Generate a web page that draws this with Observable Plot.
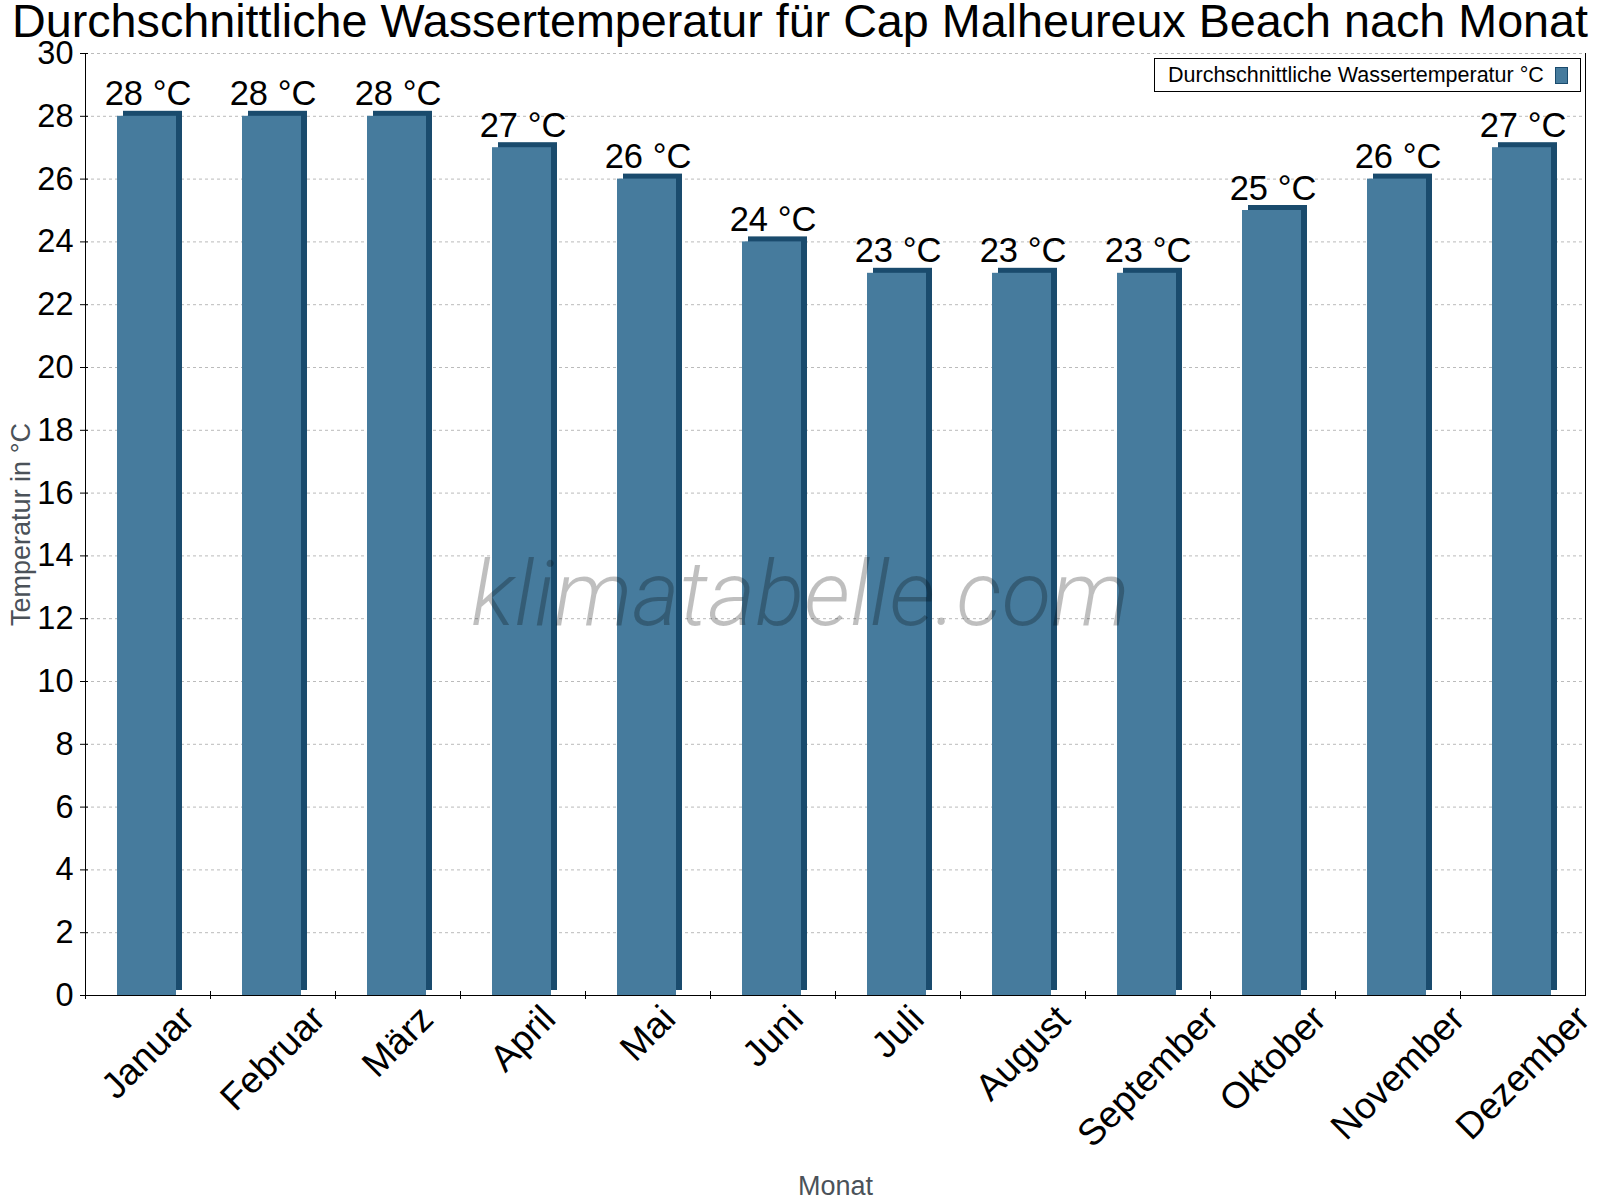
<!DOCTYPE html>
<html>
<head>
<meta charset="utf-8">
<script src="https://cdn.jsdelivr.net/npm/d3@7"></script>
<script src="https://cdn.jsdelivr.net/npm/@observablehq/plot@0.6"></script>
<style>
  html, body { margin: 0; padding: 0; background: #fff; }
  #wrap { position: relative; width: 1600px; height: 1200px; font-family: "Liberation Sans", Arial, sans-serif; }
  #title { position: absolute; left: 0; top: 0; width: 1600px; text-align: center; font-size: 46.7px; line-height: 42px; color: #000; white-space: nowrap; }
  #legend { position: absolute; left: 1154px; top: 58px; width: 427px; height: 34px; box-sizing: border-box; border: 1px solid #000; background: #fff; display: flex; align-items: center; padding-left: 13px; font-size: 21.5px; color: #000; }
  #legend .sw { margin-left: auto; margin-right: 12px; width: 13px; height: 17px; box-sizing: border-box; border: 1px solid #1a4b6d; background: #467b9d; }
  #watermark { position: absolute; left: 471px; top: 549px; font-family: Roboto, sans-serif; font-style: italic; font-weight: 300; font-size: 91px; line-height: 91px; color: rgba(0,0,0,0.25); white-space: nowrap; pointer-events: none; }
</style>
</head>
<body>
<div id="wrap">
  <div id="chart"></div>
  <div id="title">Durchschnittliche Wassertemperatur für Cap Malheureux Beach nach Monat</div>
  <div id="legend"><span>Durchschnittliche Wassertemperatur °C</span><span class="sw"></span></div>
  <div id="watermark">klimatabelle.com</div>
</div>
<script>
// Monthly average sea temperature, °C
const months = ["Januar", "Februar", "März", "April", "Mai", "Juni", "Juli", "August", "September", "Oktober", "November", "Dezember"];
const temps = [28, 28, 28, 27, 26, 24, 23, 23, 23, 25, 26, 27];
const yTicks = [0, 2, 4, 6, 8, 10, 12, 14, 16, 18, 20, 22, 24, 26, 28, 30];

const front = "#467b9d";
const side = "#1a4b6d";
const font = "\"Liberation Sans\", Arial, sans-serif";

const data = months.map((month, i) => ({month, temp: temps[i]}));

const W = 1600, H = 1200;
const mL = 85, mR = 15, mT = 53, mB = 205;
const step = (W - mL - mR) / months.length;
const monthFont = 37;

const chart = Plot.plot({
  width: W,
  height: H,
  marginLeft: mL,
  marginRight: mR,
  marginTop: mT,
  marginBottom: mB,
  style: {fontFamily: font, background: "#fff", color: "#000", overflow: "visible"},
  x: {type: "band", domain: months, padding: 0},
  y: {domain: [0, 30]},
  marks: [
    Plot.gridY(yTicks.filter(v => v > 0), {stroke: "#bbb", strokeOpacity: 1, strokeDasharray: "3,3"}),
    // extruded side and top of each bar
    Plot.barY(data, {x: "month", y: "temp", fill: side, insetLeft: 32, insetRight: 34, dx: 6, dy: -5}),
    // front face
    Plot.barY(data, {x: "month", y: "temp", fill: front, insetLeft: 32, insetRight: 34}),
    Plot.frame({anchor: "left", stroke: "#000"}),
    Plot.frame({anchor: "right", stroke: "#000"}),
    Plot.ruleY([0], {stroke: "#000"}),
    // tick marks crossing the axis lines
    Plot.axisY(yTicks, {tickSize: 8, dx: 3, tickFormat: () => "", label: null}),
    Plot.axisY(yTicks, {tickSize: 0, tickPadding: 12, fontSize: 32.5, label: null}),
    Plot.axisX({tickSize: 8, dy: -4, dx: -step / 2, tickFormat: () => "", label: null}),
    // value labels
    Plot.text(data, {x: "month", y: "temp", text: d => `${d.temp} °C`, dy: -11, lineAnchor: "bottom", fontSize: 34.5, fill: "#000"}),
    // rotated month names
    Plot.text(months, {x: d => d, text: d => d, frameAnchor: "bottom", rotate: -45, textAnchor: "middle", lineAnchor: "middle", fontSize: monthFont, fill: "#000", className: "month-label"}),
    // axis titles
    Plot.text(["Temperatur in °C"], {text: d => d, frameAnchor: "left", dx: -75, rotate: -90, textAnchor: "middle", lineAnchor: "top", fontSize: 27, fill: "#4b5259"}),
    Plot.text(["Monat"], {text: d => d, frameAnchor: "bottom", dy: 199, textAnchor: "middle", lineAnchor: "bottom", fontSize: 27, fill: "#4b5259"})
  ]
});

document.getElementById("chart").append(chart);

// Centre each rotated month name on its band (the mark's group already carries
// the half-band offset), with the top of its box just below the axis
const xs = chart.scale("x");
const labelTop = (H - mB) + 5;
chart.querySelectorAll("g.month-label text").forEach(t => {
  const L = t.getComputedTextLength();
  const cx = xs.apply(t.textContent);
  const cy = labelTop + Math.SQRT1_2 * (L + 0.93 * monthFont) / 2;
  t.setAttribute("transform", `translate(${cx},${cy}) rotate(-45)`);
});
</script>
</body>
</html>
